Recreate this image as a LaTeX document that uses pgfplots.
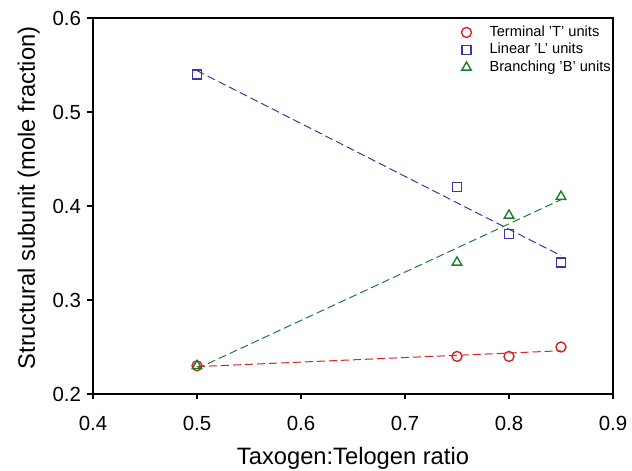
\documentclass[border=0pt]{standalone}
\usepackage{fontspec}
\setmainfont{Liberation Sans}
\usepackage{pgfplots}
\pgfplotsset{compat=1.18}
\usetikzlibrary{calc}
\definecolor{cT}{RGB}{215,35,40}
\definecolor{cL}{RGB}{55,55,170}
\definecolor{cB}{RGB}{30,125,45}
\begin{document}
\begin{tikzpicture}
\begin{axis}[
  name=ax,
  scale only axis,
  width=520bp, height=376bp,
  xmin=0.4, xmax=0.9, ymin=0.2, ymax=0.6,
  xtick={0.4,0.5,...,0.9}, ytick={0.2,0.3,...,0.6},
  xticklabels={0.4,0.5,0.6,0.7,0.8,0.9},
  yticklabels={0.2,0.3,0.4,0.5,0.6},
  tick align=outside, tick pos=left,
  major tick length=5.5bp,
  axis line style={line width=1.2bp},
  every tick/.style={black,line width=1.2bp},
  /pgf/number format/assume math mode=true,
  tick label style={font=\fontsize{20.5}{23}\selectfont},
  xticklabel style={yshift=-13bp},
  yticklabel style={xshift=-3bp},
  label style={font=\fontsize{23.8}{26}\selectfont},
  xlabel={Taxogen:Telogen ratio},
  ylabel={Structural subunit (mole fraction)},
  xlabel style={yshift=-10bp},
  ylabel style={yshift=6bp, xshift=8bp},
  legend style={at={(1,1)}, anchor=north east, xshift=-1bp, yshift=-6bp,
    draw=none, fill=none, font=\fontsize{14.7}{16}\selectfont,
    inner sep=0pt, row sep=1bp,
    nodes={inner sep=1bp, text height=11bp, text depth=3.5bp},
    /tikz/every odd column/.append style={column sep=17bp}},
  legend cell align=left,
  mark size=5bp,
]
\addplot[only marks, mark=o, cT, line width=1.4bp] coordinates {(0.5,0.23) (0.75,0.24) (0.8,0.24) (0.85,0.25)};
\addlegendentry{Terminal 'T' units}
\addplot[only marks, mark=square, cL, line width=1.4bp, mark size=4.5bp] coordinates {(0.5,0.54) (0.75,0.42) (0.8,0.37) (0.85,0.34)};
\addlegendentry{Linear 'L' units}
\addplot[only marks, mark=triangle, cB, line width=1.4bp, mark size=5.5bp] coordinates {(0.5,0.23) (0.75,0.34) (0.8,0.39) (0.85,0.41)};
\addlegendentry{Branching 'B' units}
\addplot[forget plot, cT, line width=1bp, dash pattern=on 8bp off 4bp] coordinates {(0.5,0.2291) (0.85,0.2460)};
\addplot[forget plot, cL, line width=1bp, dash pattern=on 8bp off 4bp] coordinates {(0.5,0.5440) (0.85,0.3472)};
\addplot[forget plot, cB, line width=1bp, dash pattern=on 8bp off 4bp] coordinates {(0.5,0.2269) (0.85,0.4067)};
\end{axis}
\pgfresetboundingbox
\path[use as bounding box] ($(ax.south west)+(-93bp,-77bp)$) rectangle ($(ax.north east)+(19bp,18bp)$);
\end{tikzpicture}
\end{document}
